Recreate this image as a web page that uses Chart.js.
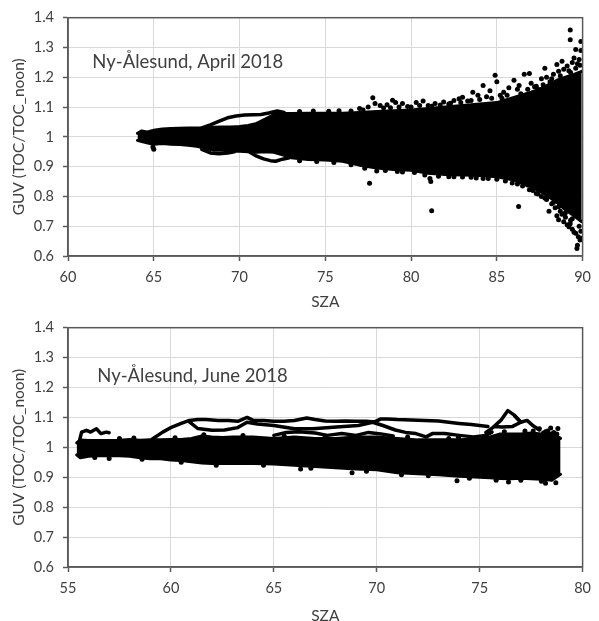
<!DOCTYPE html>
<html>
<head>
<meta charset="utf-8">
<script src="https://cdn.jsdelivr.net/npm/chart.js@4.4.1/dist/chart.umd.min.js"></script>
<style>
html,body{margin:0;padding:0;background:#fff;}
#wrap{position:relative;width:599px;height:621px;}
.box{position:absolute;left:0;width:599px;}
#b1{top:0;height:310px;}
#b2{top:310px;height:311px;}
</style>
</head>
<body>
<div id="wrap">
  <div class="box" id="b1"><canvas id="c1"></canvas></div>
  <div class="box" id="b2"><canvas id="c2"></canvas></div>
</div>
<script>
// ---------- shared text / ticks ----------
const yTitle = 'GUV (TOC/TOC_noon)';
const xTitle = 'SZA';
const yTickLabels = ['0.6','0.7','0.8','0.9','1','1.1','1.2','1.3','1.4'];
const aprXTicks = ['60','65','70','75','80','85','90'];
const junXTicks = ['55','60','65','70','75','80'];
const aprNote = 'Ny-Ålesund, April 2018';
const junNote = 'Ny-Ålesund, June 2018';

// ---------- April 2018 ----------
const aprCoreSza = [64.05,64.3,64.6,65.0,65.5,66.0,66.5,67.0,67.5,68.0,
  68.5,69.0,69.5,70.0,70.5,71.0,71.5,72.0,72.5,73.0,
  74,75,76,77,78,79,80,81,82,83,84,85,86,87,
  87.5,88.0,88.5,89.0,89.5,89.95];
const aprCoreTop = [1.012,1.02,1.016,1.022,1.026,1.028,1.029,1.03,1.03,1.03,
  1.032,1.033,1.033,1.035,1.038,1.045,1.06,1.075,1.078,1.078,
  1.079,1.079,1.079,1.082,1.085,1.088,1.09,1.095,1.1,1.105,1.11,1.115,1.132,1.15,
  1.16,1.175,1.19,1.2,1.21,1.22];
const aprCoreBot = [0.988,0.984,0.98,0.975,0.978,0.975,0.974,0.972,0.968,0.962,
  0.955,0.955,0.952,0.952,0.95,0.948,0.95,0.948,0.94,0.93,
  0.924,0.922,0.918,0.905,0.895,0.89,0.888,0.878,0.874,0.872,0.87,0.866,0.855,0.832,
  0.818,0.8,0.78,0.755,0.735,0.715];
const aprLoopUpSza = [67.8,68.3,68.75,69.3,69.8,70.3,70.8,71.25,71.7,72.2,72.6];
const aprLoopUpVal = [1.03,1.04,1.051,1.064,1.07,1.073,1.074,1.075,1.08,1.087,1.082];
const aprLoopLowASza = [67.8,68.3,68.8,69.3,69.7];
const aprLoopLowAVal = [0.958,0.946,0.943,0.946,0.95];
const aprLoopLowBSza = [70.6,71.0,71.4,71.8,72.1,72.5,72.9];
const aprLoopLowBVal = [0.948,0.935,0.926,0.92,0.918,0.925,0.93];
const aprDotSza = [
  77.2,77.5,77.77,77.9,78.2,78.4,78.6,78.92,79.1,79.5,
  79.8,80.3,80.7,81.0,81.4,81.9,82.2,82.5,82.8,83.0,
  83.3,83.6,83.9,84.2,84.4,84.6,84.9,85.0,85.2,85.4,
  85.7,86.0,86.2,86.3,86.6,86.9,87.0,87.2,87.4,87.6,
  87.8,87.9,88.1,88.3,88.5,88.6,88.8,88.9,89.1,89.3,
  89.4,89.5,89.6,89.7,89.9,89.9,89.28,89.28,89.8,
  77.58,78.0,79.5,81.1,81.2,81.15,82.5,83.5,84.2,85.0,
  85.9,86.27,86.5,86.8,87.1,87.3,87.6,87.9,88.04,88.2,
  88.4,88.5,88.6,88.7,88.8,88.9,89.0,89.1,89.2,89.28,
  89.3,89.4,89.5,89.6,89.67,89.7,89.75,89.85,89.9,89.95,
  64.95,65.0,
  73.5,74.3,75.2,75.8,76.5,77.0,78.8,79.3,80.0,80.5,
  81.2,81.7,82.3,82.9,83.5,84.0,84.7,85.3,85.6,86.4,
  86.8,87.3,87.7,88.2,88.7,89.2,89.6,89.85,
  73.5,74.5,75.5,76.5,77.3,78.5,79.2,80.2,80.8,81.6,
  82.2,83.0,83.8,84.5,85.5,86.2,86.9,87.4,87.8,88.3,
  88.6,89.0,89.4,89.8];
const aprDotVal = [
  1.09,1.1,1.131,1.112,1.105,1.097,1.108,1.123,1.115,1.112,
  1.102,1.115,1.12,1.105,1.112,1.117,1.11,1.122,1.128,1.133,
  1.12,1.15,1.14,1.172,1.135,1.155,1.207,1.185,1.14,1.15,
  1.165,1.19,1.16,1.172,1.21,1.213,1.18,1.168,1.16,1.195,
  1.23,1.2,1.185,1.21,1.243,1.22,1.254,1.227,1.238,1.216,
  1.25,1.265,1.293,1.245,1.32,1.29,1.359,1.326,1.26,
  0.844,0.885,0.882,0.86,0.752,0.85,0.866,0.864,0.86,0.858,
  0.845,0.766,0.835,0.838,0.82,0.81,0.8,0.79,0.75,0.775,
  0.762,0.735,0.722,0.75,0.74,0.715,0.73,0.705,0.698,0.708,
  0.72,0.69,0.68,0.676,0.625,0.636,0.665,0.654,0.683,0.66,
  0.966,0.958,
  1.085,1.087,1.086,1.088,1.087,1.095,1.098,1.1,1.1,1.105,
  1.103,1.107,1.113,1.115,1.122,1.125,1.13,1.13,1.14,1.145,
  1.16,1.17,1.175,1.195,1.205,1.222,1.23,1.24,
  0.92,0.917,0.914,0.906,0.895,0.887,0.884,0.88,0.872,0.868,
  0.866,0.865,0.862,0.86,0.852,0.842,0.822,0.808,0.795,0.78,
  0.765,0.745,0.725,0.7];

// ---------- June 2018 ----------
const junCoreSza = [55.42,55.6,56.0,56.5,57.0,57.5,58.0,58.5,59.0,59.5,
  60.0,60.5,61.0,61.5,62.0,62.5,63.0,64.0,65.0,66.0,
  67,68,69,70,71,72,73,74,75,75.5,
  76.0,76.5,77.0,77.5,78.0,78.5,78.93];
const junCoreTop = [1.015,1.025,1.023,1.023,1.023,1.024,1.026,1.024,1.025,1.025,
  1.026,1.026,1.03,1.038,1.035,1.033,1.035,1.035,1.03,1.035,
  1.03,1.03,1.035,1.035,1.03,1.025,1.025,1.025,1.028,1.035,
  1.045,1.045,1.045,1.048,1.045,1.048,1.03];
const junCoreBot = [0.975,0.965,0.97,0.972,0.972,0.972,0.97,0.965,0.962,0.962,
  0.958,0.956,0.952,0.948,0.946,0.946,0.947,0.946,0.944,0.94,
  0.936,0.932,0.928,0.925,0.915,0.912,0.908,0.903,0.9,0.898,
  0.896,0.895,0.897,0.895,0.893,0.89,0.91];
const junTrackASza = [59.1,59.6,60.05,60.5,60.9,61.3,61.7,62.3,62.8,63.25,
  63.7,64.0,64.5,65.0,65.5,66.0,66.6,67.0,67.5,68.0,
  68.5,69.0,69.5,69.9,70.2,70.5,71.0,72.0,73.0,74.0,
  74.6,75.0,75.4];
const junTrackAVal = [1.028,1.051,1.068,1.08,1.09,1.093,1.093,1.09,1.09,1.087,
  1.1,1.09,1.09,1.087,1.087,1.09,1.098,1.093,1.088,1.087,
  1.088,1.087,1.087,1.085,1.095,1.095,1.093,1.091,1.088,1.08,
  1.076,1.073,1.07];
const junTrackBSza = [60.9,61.3,62.0,62.6,63.25,63.7,64.2,65.0,66.0,66.9,
  68.05,69.1,69.8,70.3,70.9,71.4,71.9,72.4,72.7,73.3,74.0,74.7,75.3,75.6];
const junTrackBVal = [1.085,1.063,1.057,1.058,1.066,1.084,1.078,1.073,1.062,1.062,
  1.068,1.073,1.084,1.073,1.058,1.05,1.046,1.035,1.046,1.046,1.04,1.035,1.04,1.051];
const junTrackDSza = [65.0,65.6,66.2,67.0,67.6,68.3,69.0,69.6,70.2,70.8];
const junTrackDVal = [1.04,1.05,1.052,1.048,1.04,1.046,1.04,1.05,1.045,1.038];
const junTrackESza = [75.3,75.6,76.05,76.37,76.7,77.0,76.6,76.1,75.7];
const junTrackEVal = [1.05,1.064,1.092,1.123,1.107,1.084,1.07,1.068,1.07];
const junTrackFSza = [76.7,77.0,77.3,77.6,77.9];
const junTrackFVal = [1.105,1.084,1.09,1.072,1.058];
const junHookSza = [55.55,55.66,55.9,56.1,56.38,56.6,56.86,57.0];
const junHookVal = [1.02,1.051,1.057,1.051,1.062,1.046,1.051,1.049];
const junDotSza = [77.6,77.9,78.1,78.3,78.45,78.6,78.8,78.75,73.9,76.4,78.2,78.7,68.8,66.3,57.0,73.97,
  57.5,58.2,60.2,61.6,63.5,65.5,67.5,71.5,73.5,76.2,77.2,78.2,
  56.3,58.6,60.5,62.2,64.5,66.8,69.5,71.2,72.5,74.5,75.8,77.0,78.0];
const junDotVal = [1.055,1.062,1.048,1.055,1.065,1.05,1.063,1.045,0.888,0.884,0.88,0.882,0.915,0.928,0.963,1.034,
  1.03,1.031,1.032,1.042,1.04,1.038,1.036,1.035,1.03,1.052,1.055,1.052,
  0.966,0.96,0.95,0.94,0.94,0.93,0.92,0.908,0.905,0.897,0.89,0.89,0.887];

// ---------- helpers ----------
function pts(xs, ys) { return xs.map((x, i) => ({x: x, y: ys[i]})); }
const INK = '#000000';
const TEXT = '#404040';
const GRID = '#d9d9d9';
const AXIS = '#595959';
const FONT = 'Lato, "Open Sans", sans-serif';

function lineDs(xs, ys, w) {
  return {data: pts(xs, ys), borderColor: INK, borderWidth: w, pointRadius: 0,
    fill: false, tension: 0, borderJoinStyle: 'round', borderCapStyle: 'round'};
}
function dotDs(xs, ys) {
  return {data: pts(xs, ys), showLine: false, pointRadius: 2.5, pointBorderWidth: 0,
    pointBackgroundColor: INK, borderColor: INK, fill: false};
}

function build(canvasId, cfg) {
  const frame = {
    id: 'frame',
    afterDatasetsDraw(chart) {
      const {ctx, chartArea: a} = chart;
      ctx.save();
      ctx.strokeStyle = AXIS; ctx.lineWidth = 1.5;
      ctx.strokeRect(a.left, a.top, a.right - a.left, a.bottom - a.top);
      ctx.restore();
    }
  };
  const note = {
    id: 'note',
    afterDraw(chart) {
      const {ctx, scales: {x, y}} = chart;
      ctx.save();
      ctx.font = '18.5px ' + FONT;
      ctx.fillStyle = TEXT;
      ctx.textAlign = 'left';
      ctx.textBaseline = 'middle';
      ctx.fillText(cfg.note, x.getPixelForValue(cfg.noteX), y.getPixelForValue(cfg.noteY));
      ctx.restore();
    }
  };
  const core = [
    Object.assign(lineDs(cfg.coreX, cfg.coreTop, 3), {fill: '+1', backgroundColor: INK}),
    lineDs(cfg.coreX, cfg.coreBot, 3)
  ];
  const datasets = core.concat(cfg.extra);
  return new Chart(document.getElementById(canvasId), {
    type: 'line',
    data: {datasets: datasets},
    options: {
      responsive: true, maintainAspectRatio: false, animation: false,
      layout: {padding: {left: 0, right: 10, top: cfg.padTop, bottom: 0}},
      plugins: {legend: {display: false}, tooltip: {enabled: false}},
      scales: {
        x: {
          type: 'linear', min: cfg.xMin, max: cfg.xMax,
          afterFit: s => { s.height = cfg.xH; },
          ticks: {stepSize: 5, padding: 8, color: TEXT, font: {family: FONT, size: 14.5},
            maxRotation: 0, callback: (v, i) => cfg.xTicks[i]},
          grid: {color: GRID, lineWidth: 1, tickLength: 5, tickColor: AXIS, tickWidth: 1.5, drawTicks: true},
          border: {display: true, color: AXIS, width: 1.5},
          title: {display: true, text: xTitle, color: TEXT, padding: 0,
            font: {family: FONT, size: 15.5, lineHeight: cfg.titleLH}}
        },
        y: {
          min: 0.6, max: 1.4,
          afterFit: s => { s.width = 68; },
          ticks: {stepSize: 0.1, padding: 9, color: TEXT, font: {family: FONT, size: 14.5},
            callback: (v, i) => yTickLabels[i]},
          grid: {color: GRID, lineWidth: 1, tickLength: 5, tickColor: AXIS, tickWidth: 1.5, drawTicks: true},
          border: {display: true, color: AXIS, width: 1.5},
          title: {display: true, text: yTitle, color: TEXT, padding: {top: 11, bottom: 0},
            font: {family: FONT, size: 15.5, lineHeight: 1.0}}
        }
      }
    },
    plugins: [frame, note]
  });
}

build('c1', {
  xMin: 60, xMax: 90, padTop: 15, xH: 54, titleLH: 1.0, xTicks: aprXTicks,
  note: aprNote, noteX: 61.42, noteY: 1.252,
  coreX: aprCoreSza, coreTop: aprCoreTop, coreBot: aprCoreBot,
  extra: [
    lineDs(aprLoopUpSza, aprLoopUpVal, 3.5),
    lineDs(aprLoopLowASza, aprLoopLowAVal, 3.5),
    lineDs(aprLoopLowBSza, aprLoopLowBVal, 3.5),
    dotDs(aprDotSza, aprDotVal)
  ]
});

build('c2', {
  xMin: 55, xMax: 80, padTop: 17, xH: 54, titleLH: 0.7, xTicks: junXTicks,
  note: junNote, noteX: 56.42, noteY: 1.237,
  coreX: junCoreSza, coreTop: junCoreTop, coreBot: junCoreBot,
  extra: [
    lineDs(junTrackASza, junTrackAVal, 3.5),
    lineDs(junTrackBSza, junTrackBVal, 3.5),
    lineDs(junTrackDSza, junTrackDVal, 3.5),
    lineDs(junTrackESza, junTrackEVal, 3.5),
    lineDs(junTrackFSza, junTrackFVal, 3.5),
    lineDs(junHookSza, junHookVal, 3.5),
    dotDs(junDotSza, junDotVal)
  ]
});
</script>
</body>
</html>
